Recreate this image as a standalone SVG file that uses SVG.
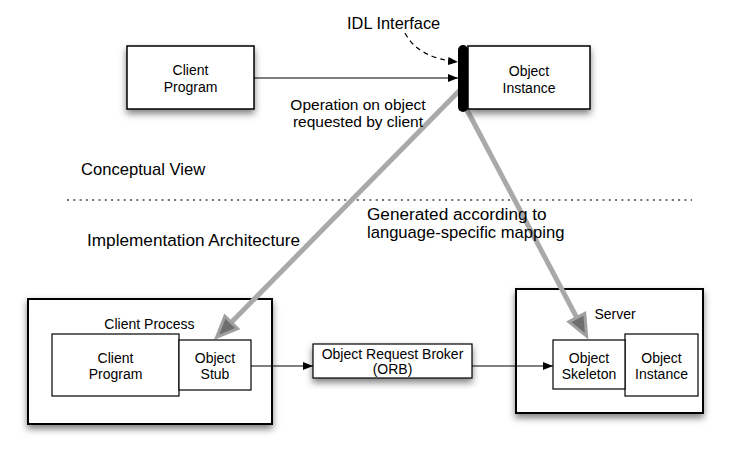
<svg xmlns="http://www.w3.org/2000/svg" width="741" height="458" viewBox="0 0 741 458">
<style>
  .box { fill: #fff; stroke: #000; stroke-width: 1.5; }
  .inner { fill: #fff; stroke: #000; stroke-width: 1.2; }
  .lbl { font-family: "Liberation Sans", Arial, sans-serif; font-size: 14px; fill: #000; text-anchor: middle; }
  .ann { font-family: "Liberation Sans", Arial, sans-serif; font-size: 16.8px; fill: #000; }
  .conn { stroke: #000; stroke-width: 1.2; fill: none; }
  .gray { stroke: #a9a9a9; stroke-width: 5; fill: none; }
</style>
<defs>
  <filter id="sh" x="-20%" y="-20%" width="140%" height="150%">
    <feDropShadow dx="0" dy="4" stdDeviation="3.5" flood-color="#000" flood-opacity="0.5"/>
  </filter>
  <marker id="ah" viewBox="0 0 10 8" markerWidth="10" markerHeight="8" refX="10" refY="4" orient="auto" markerUnits="userSpaceOnUse">
    <path d="M0,0 L10,4 L0,8 z" fill="#000"/>
  </marker>
  <marker id="gh" viewBox="0 0 22 20" markerWidth="22" markerHeight="20" refX="9" refY="10" orient="auto" markerUnits="userSpaceOnUse" overflow="visible">
    <path d="M0,1 L21,10 L0,19 z" fill="#6e6e6e" stroke="#a0a0a0" stroke-width="3" stroke-linejoin="miter"/>
  </marker>
</defs>

<rect width="741" height="458" fill="#fff"/>

<line id="divider" x1="67" y1="200" x2="692" y2="200" stroke="#444" stroke-width="1.5" stroke-dasharray="2 4.3"/>

<g id="client-process">
  <rect class="box" x="28" y="299" width="244" height="125" filter="url(#sh)" style="stroke-width:2"/>
  <text class="lbl" x="149.5" y="329">Client Process</text>
</g>
<g id="server">
  <rect class="box" x="516" y="289" width="187" height="124" filter="url(#sh)" style="stroke-width:2"/>
  <text class="lbl" x="615" y="319">Server</text>
</g>

<g id="connectors">
  <line class="gray" x1="463" y1="87" x2="225" y2="328.8" marker-end="url(#gh)"/>
  <line class="gray" x1="466" y1="108" x2="581" y2="325.6" marker-end="url(#gh)"/>
  <line class="conn" x1="254" y1="78" x2="458" y2="78" marker-end="url(#ah)"/>
  <path class="conn" d="M405,33 Q418,58 458,62" stroke-dasharray="5 4" marker-end="url(#ah)"/>
  <line class="conn" x1="251" y1="366" x2="313" y2="366" marker-end="url(#ah)"/>
  <line class="conn" x1="472" y1="366" x2="553" y2="366" marker-end="url(#ah)"/>
</g>

<g id="labels">
  <text class="ann" x="347" y="29" style="font-size:16.4px">IDL Interface</text>
  <text class="ann" x="358" y="110" text-anchor="middle" style="font-size:15.5px">Operation on object</text>
  <text class="ann" x="358" y="127" text-anchor="middle" style="font-size:15.5px">requested by client</text>
  <text class="ann" x="81" y="175" style="font-size:16.6px">Conceptual View</text>
  <text class="ann" x="87" y="246" style="font-size:17.2px">Implementation Architecture</text>
  <text class="ann" x="367" y="220" style="font-size:17.2px">Generated according to</text>
  <text class="ann" x="367" y="238" style="font-size:16.6px">language-specific mapping</text>
</g>

<g id="client-program-top">
  <rect class="box" x="127" y="46" width="127" height="63" filter="url(#sh)"/>
  <text class="lbl" x="190.5" y="75">Client</text>
  <text class="lbl" x="190.5" y="92">Program</text>
</g>

<g id="object-instance-top">
  <rect class="box" x="468" y="46" width="122" height="63" filter="url(#sh)"/>
  <text class="lbl" x="529" y="76">Object</text>
  <text class="lbl" x="529" y="93">Instance</text>
</g>

<g id="idl-interface-bar">
  <line x1="463" y1="50" x2="463" y2="107" stroke="#000" stroke-width="10" stroke-linecap="round"/>
</g>

<g id="client-program">
  <rect class="inner" x="52" y="334" width="127" height="62"/>
  <text class="lbl" x="115.5" y="363">Client</text>
  <text class="lbl" x="115.5" y="379">Program</text>
</g>
<g id="object-stub">
  <rect class="inner" x="179" y="340" width="72" height="50"/>
  <text class="lbl" x="215" y="363">Object</text>
  <text class="lbl" x="215" y="379">Stub</text>
</g>

<g id="orb">
  <rect class="box" x="313" y="344" width="159" height="34" filter="url(#sh)" style="stroke-width:1.2"/>
  <text class="lbl" x="392.5" y="359">Object Request Broker</text>
  <text class="lbl" x="392.5" y="374">(ORB)</text>
</g>

<g id="object-instance">
  <rect class="inner" x="625" y="334" width="73" height="62"/>
  <text class="lbl" x="661.5" y="363">Object</text>
  <text class="lbl" x="661.5" y="379">Instance</text>
</g>
<g id="object-skeleton">
  <rect class="inner" x="553" y="340" width="72" height="49"/>
  <text class="lbl" x="589" y="363">Object</text>
  <text class="lbl" x="589" y="379">Skeleton</text>
</g>
</svg>
